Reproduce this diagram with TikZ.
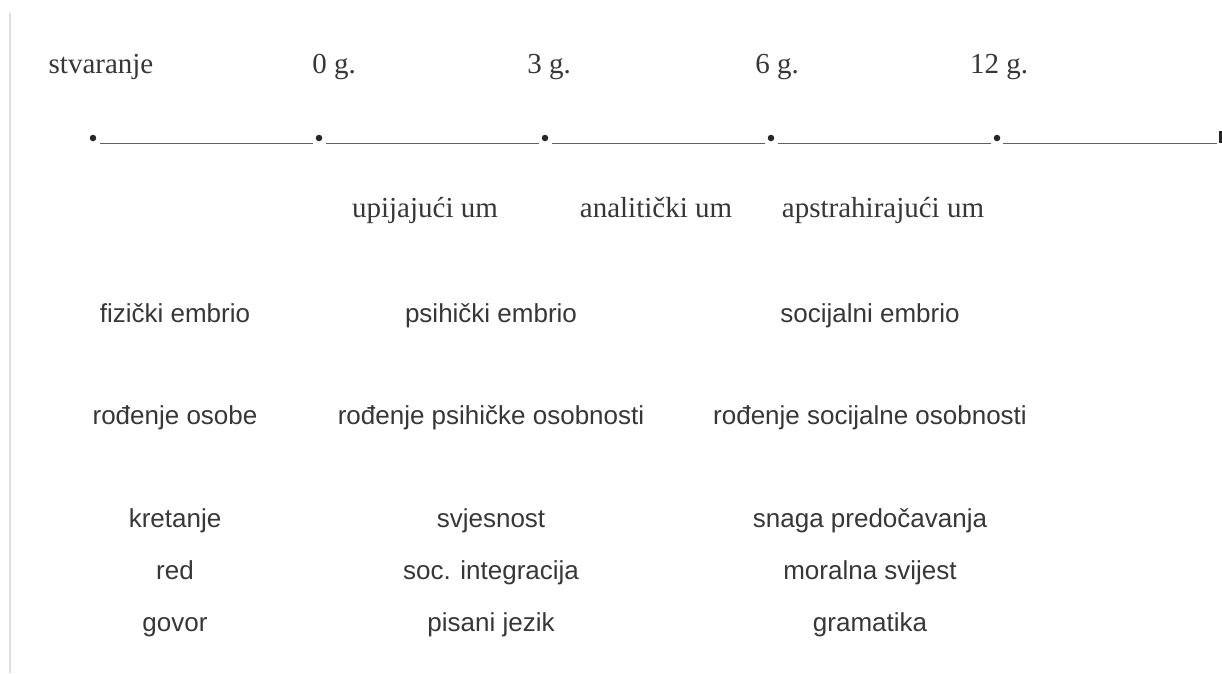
\documentclass[tikz,border=0pt]{standalone}
\usepackage{fontspec}
\setmainfont{Liberation Serif}
\setsansfont{Liberation Sans}
\definecolor{ink}{RGB}{55,55,55}
\definecolor{frame}{RGB}{222,222,222}
\begin{document}
\begin{tikzpicture}[x=1pt,y=-1pt,
  serif/.style={font=\fontsize{29}{34}\selectfont, text=ink, anchor=base, inner sep=0pt},
  sans/.style={font=\sffamily\fontsize{26}{30}\selectfont, text=ink, anchor=base, inner sep=0pt},
  dot/.style={circle, fill=black!85, inner sep=0pt, minimum size=6.5pt},
  seg/.style={draw=black!62, line width=1.6pt},
  endmark/.style={rectangle, fill=black!85, inner sep=0pt, minimum width=3pt, minimum height=12pt},
  border/.style={draw=frame, line width=1.2pt}]
\useasboundingbox (0,0) rectangle (1222,673);
\fill[white] (0,0) rectangle (1222,673);
% left border
\coordinate (bt) at (10,13);
\coordinate (bb) at (10,673);
\draw[border] (bt) -- (bb);
% top labels
\node[serif] (t0) at (101,73) {stvaranje};
\node[serif] (t1) at (334,73) {0 g.};
\node[serif] (t2) at (549,73) {3 g.};
\node[serif] (t3) at (777,73) {6 g.};
\node[serif] (t4) at (999,73) {12 g.};
% timeline
\node[dot] (d0) at (93,138) {};
\node[dot] (d1) at (319,138) {};
\node[dot] (d2) at (545,138) {};
\node[dot] (d3) at (771,138) {};
\node[dot] (d4) at (997,138) {};
\node[endmark] (e) at (1220.5,137) {};
\draw[seg] ([shift={(7,5.5)}]d0.center) -- ([shift={(-6,5.5)}]d1.center);
\draw[seg] ([shift={(7,5.5)}]d1.center) -- ([shift={(-6,5.5)}]d2.center);
\draw[seg] ([shift={(7,5.5)}]d2.center) -- ([shift={(-6,5.5)}]d3.center);
\draw[seg] ([shift={(7,5.5)}]d3.center) -- ([shift={(-6,5.5)}]d4.center);
\draw[seg] ([shift={(6,5.5)}]d4.center) -- ([shift={(-4,6.5)}]e.center);
% minds
\node[serif] (m1) at (425,217) {upijajući um};
\node[serif] (m2) at (656,217) {analitički um};
\node[serif] (m3) at (883,217) {apstrahirajući um};
% rows
\node[sans] (a1) at (175,322) {fizički embrio};
\node[sans] (b1) at (491,322) {psihički embrio};
\node[sans] (c1) at (870,322) {socijalni embrio};
\node[sans] (a2) at (175,424) {rođenje osobe};
\node[sans] (b2) at (491,424) {rođenje psihičke osobnosti};
\node[sans] (c2) at (870,424) {rođenje socijalne osobnosti};
\node[sans] (a3) at (175,527) {kretanje};
\node[sans] (b3) at (491,527) {svjesnost};
\node[sans] (c3) at (870,527) {snaga predočavanja};
\node[sans] (a4) at (175,579) {red};
\node[sans] (b4) at (491,579) {soc. integracija};
\node[sans] (c4) at (870,579) {moralna svijest};
\node[sans] (a5) at (175,631) {govor};
\node[sans] (b5) at (491,631) {pisani jezik};
\node[sans] (c5) at (870,631) {gramatika};
\end{tikzpicture}
\end{document}
